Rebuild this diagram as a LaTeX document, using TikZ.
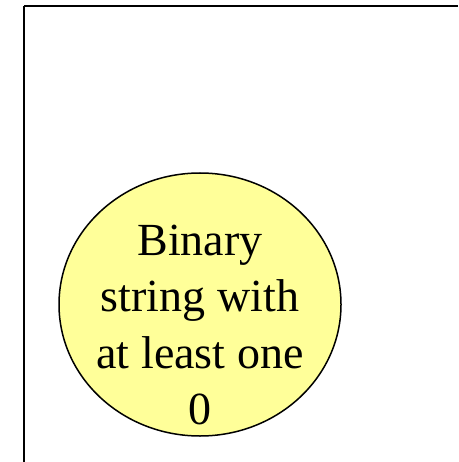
\documentclass[tikz,border=0pt]{standalone}
\usepackage{fontspec}
\setmainfont{Liberation Serif}
\usepackage{tikz}
\definecolor{cy}{RGB}{255, 255, 153}
\usetikzlibrary{positioning}
\usetikzlibrary{shapes.geometric}

\begin{document}
\begin{tikzpicture}[x=1pt, y=1pt]
[every node/.style={inner sep=0pt}]
\useasboundingbox (0.0pt, 0.0pt) rectangle (458.0pt, -462.0pt);
\coordinate (topright) at (458.0pt, -6.0pt);
\coordinate (corner) at (24.0pt, -6.0pt);
\coordinate (bottomleft) at (24.0pt, -462.0pt);
\node (set) [ellipse, minimum width=282pt, minimum height=263pt, fill=cy, line width=1.5pt, draw=black] at (200.0pt, -304.5pt)  {};
\node (setlabel) [align=center, inner sep=0pt, font=\fontsize{46}{56.5}\selectfont] at (200.0pt, -325.0pt)  {Binary\\string with\\at least one\\0};
\draw [line width=2.2pt, color=black] (topright) to(corner);
\draw [line width=2.2pt, color=black] (corner) to(bottomleft);
\end{tikzpicture}
\end{document}
